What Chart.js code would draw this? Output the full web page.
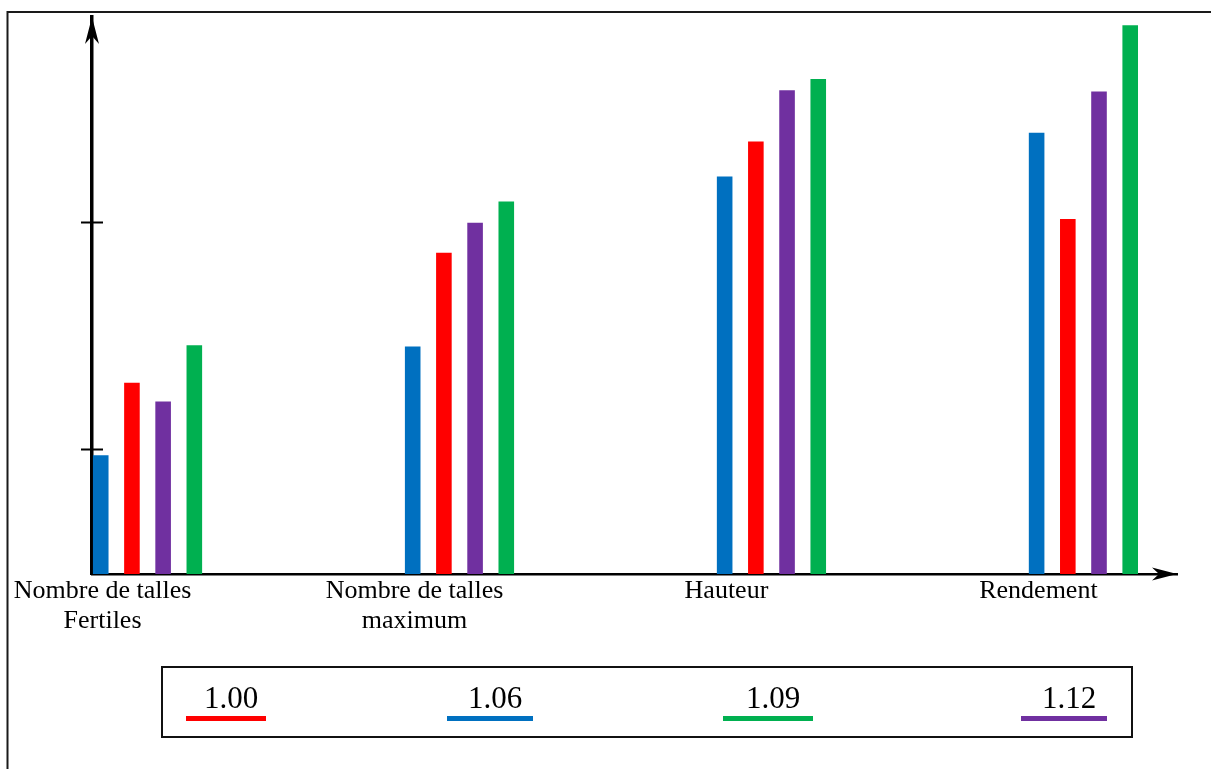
<!DOCTYPE html>
<html>
<head>
<meta charset="utf-8">
<script src="https://cdn.jsdelivr.net/npm/chart.js@4.4.1/dist/chart.umd.min.js"></script>
<style>
html,body{margin:0;padding:0;background:#fff;}
#wrap{width:1211px;height:769px;position:relative;overflow:hidden;}
canvas{display:block;}
</style>
</head>
<body>
<div id="wrap"><canvas id="c" width="1211" height="769"></canvas></div>
<script>
// ---- data ----
const categories = [["Nombre de talles", "Fertiles"], ["Nombre de talles", "maximum"], ["Hauteur"], ["Rendement"]];
const seriesNames = ["1.06", "1.00", "1.12", "1.09"];   // order of the bars inside each group
const values106 = [0.95, 1.82, 3.18, 3.53];
const values100 = [1.53, 2.57, 3.46, 2.84];
const values112 = [1.38, 2.81, 3.87, 3.86];
const values109 = [1.83, 2.98, 3.96, 4.39];
const legendOrder = ["1.00", "1.06", "1.09", "1.12"];
const yTickMarks = [1, 2.82];
const yMax = 4.456;

// ---- styles / layout ----
const COLORS = { "1.06": "#0070C0", "1.00": "#FF0000", "1.12": "#7030A0", "1.09": "#00B050" };
const SERIF = '"Liberation Serif", "Times New Roman", serif';
const LEGEND_BOX = { x: 162, y: 667, w: 970, h: 70 };
const LEGEND_LINE_X = [226, 490, 768, 1064];
const LEGEND_LINE_W = [80, 86, 90, 86];

const seriesValues = [values106, values100, values112, values109];
const datasets = seriesNames.map((name, k) => ({
  label: name,
  data: seriesValues[k].map((v, i) => ({ x: i, y: v })),
  backgroundColor: COLORS[name],
  borderWidth: 0,
  categoryPercentage: 0.4,
  barPercentage: 0.5
}));

function stealth(ctx, tipX, tipY, dirX, dirY, len, half, notch) {
  const px = -dirY, py = dirX;
  const bx = tipX - dirX * len, by = tipY - dirY * len;
  const nx = tipX - dirX * notch, ny = tipY - dirY * notch;
  ctx.beginPath();
  ctx.moveTo(tipX, tipY);
  ctx.lineTo(bx + px * half, by + py * half);
  ctx.lineTo(nx, ny);
  ctx.lineTo(bx - px * half, by - py * half);
  ctx.closePath();
  ctx.fill();
}

const decor = {
  id: 'decor',
  afterDraw(chart) {
    const ctx = chart.ctx;
    const ca = chart.chartArea;
    const ys = chart.scales.y;
    ctx.save();
    // outer frame (top and left)
    ctx.strokeStyle = '#1a1a1a';
    ctx.lineWidth = 2;
    ctx.beginPath();
    ctx.moveTo(7.5, 769);
    ctx.lineTo(7.5, 12);
    ctx.lineTo(1211, 12);
    ctx.stroke();

    // arrows
    ctx.fillStyle = '#000';
    stealth(ctx, ca.left, ca.top, 0, -1, 27, 7, 19);
    stealth(ctx, ca.right, ca.bottom, 1, 0, 25, 6.5, 18);

    // y tick marks crossing the axis
    ctx.strokeStyle = '#000';
    ctx.lineWidth = 2;
    yTickMarks.forEach(v => {
      const py = Math.round(ys.getPixelForValue(v)) + 0.5;
      ctx.beginPath();
      ctx.moveTo(ca.left - 11, py);
      ctx.lineTo(ca.left + 11, py);
      ctx.stroke();
    });

    // legend box
    ctx.strokeStyle = '#111';
    ctx.lineWidth = 2;
    ctx.strokeRect(LEGEND_BOX.x, LEGEND_BOX.y, LEGEND_BOX.w, LEGEND_BOX.h);
    ctx.font = '31px ' + SERIF;
    ctx.textAlign = 'center';
    ctx.textBaseline = 'alphabetic';
    legendOrder.forEach((name, i) => {
      const cx = LEGEND_LINE_X[i];
      const w = LEGEND_LINE_W[i];
      ctx.fillStyle = COLORS[name];
      ctx.fillRect(cx - w / 2, 716, w, 5);
      ctx.fillStyle = '#000';
      ctx.fillText(name, cx + 5, 708);
    });
    ctx.restore();
  }
};

new Chart(document.getElementById('c'), {
  type: 'bar',
  data: { datasets },
  options: {
    responsive: false,
    animation: false,
    devicePixelRatio: 1,
    layout: { padding: { top: 17, right: 34, bottom: 0, left: 0 } },
    plugins: { legend: { display: false }, tooltip: { enabled: false } },
    scales: {
      x: {
        type: 'linear',
        min: -0.178,
        max: 3.3,
        bounds: 'data',
        offset: false,
        grid: { display: false, drawTicks: false },
        border: { display: true, color: '#000', width: 2.5 },
        afterBuildTicks: s => { s.ticks = categories.map((c, i) => ({ value: i })); },
        afterFit: s => { s.height = 195; },
        ticks: {
          autoSkip: false, maxRotation: 0, minRotation: 0,
          labelOffset: -45, padding: 2, color: '#000',
          font: { family: SERIF, size: 26, lineHeight: 1.15 },
          callback: v => categories[v] ?? ''
        }
      },
      y: {
        min: 0,
        max: yMax,
        grid: { display: false, drawTicks: false },
        border: { display: true, color: '#000', width: 3.5 },
        ticks: { display: false },
        afterFit: s => { s.width = 92; }
      }
    }
  },
  plugins: [decor]
});
</script>
</body>
</html>
